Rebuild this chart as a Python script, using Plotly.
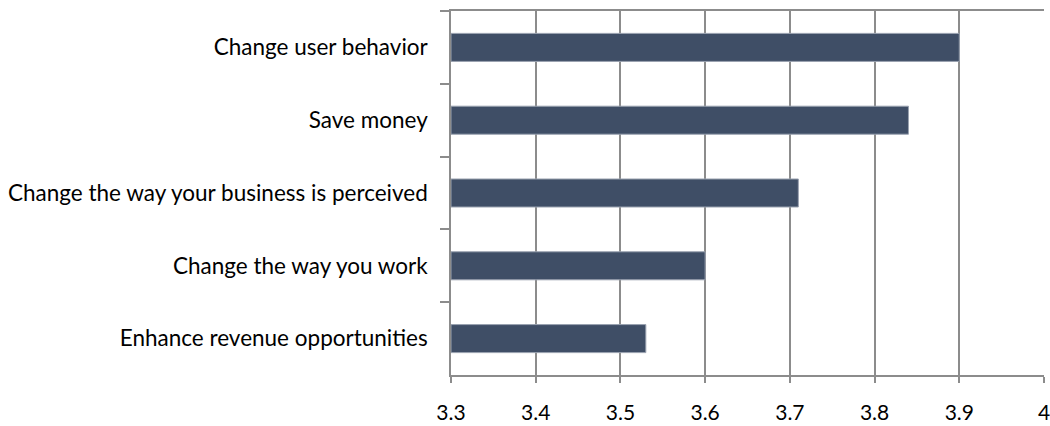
import plotly.graph_objects as go

# Survey items, listed top to bottom as displayed
categories = [
    "Change user behavior",
    "Save money",
    "Change the way your business is perceived",
    "Change the way you work",
    "Enhance revenue opportunities",
]
scores = [3.90, 3.84, 3.71, 3.60, 3.53]

x_min = 3.3
x_ticks = [3.3, 3.4, 3.5, 3.6, 3.7, 3.8, 3.9, 4.0]
x_tick_text = ["3.3", "3.4", "3.5", "3.6", "3.7", "3.8", "3.9", "4"]

FONT = "Lato"
GRID = "#8c8c8c"

# bars start at the axis minimum, so each length is measured from 3.3
fig = go.Figure(
    go.Bar(
        x=[v - x_min for v in scores],
        y=categories,
        orientation="h",
        base=x_min,
        marker=dict(color="#3f4e66", line=dict(color="#9aa2b0", width=1)),
        width=0.385,
        customdata=scores,
        hovertemplate="%{y}: %{customdata}<extra></extra>",
    )
)

fig.update_layout(
    width=1050,
    height=426,
    margin=dict(l=451, r=6, t=11, b=51),
    paper_bgcolor="white",
    plot_bgcolor="white",
    showlegend=False,
    font=dict(family=FONT, size=22.5, color="#000000"),
)

fig.update_xaxes(
    range=[3.3, 4.0],
    tickvals=x_ticks,
    ticktext=x_tick_text,
    tickfont=dict(size=21),
    showgrid=True,
    gridcolor=GRID,
    gridwidth=1.5,
    showline=True,
    linecolor=GRID,
    linewidth=1.5,
    mirror=True,
    ticks="outside",
    ticklen=6,
    tickcolor=GRID,
    tickwidth=1.5,
    ticklabelstandoff=12,
    ticklabeloverflow="allow",
    zeroline=False,
    automargin=False,
)

fig.update_yaxes(
    categoryorder="array",
    categoryarray=categories,
    autorange="reversed",
    tickson="boundaries",
    ticks="outside",
    ticklen=9,
    tickcolor=GRID,
    tickwidth=1.5,
    showline=True,
    linecolor=GRID,
    linewidth=1.5,
    showgrid=False,
    ticklabelstandoff=17,
    automargin=False,
)

fig.write_html("out.html")
